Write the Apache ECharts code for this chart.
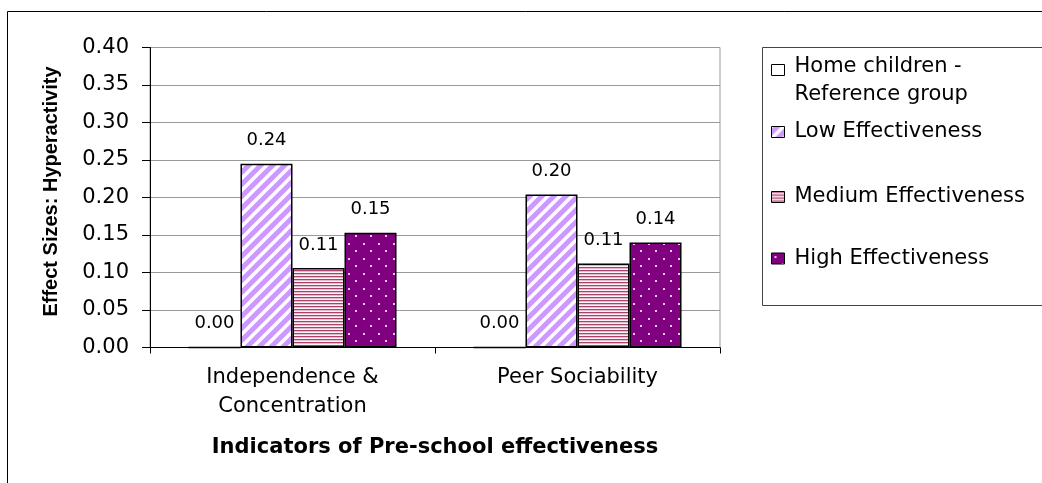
<!DOCTYPE html>
<html>
<head>
<meta charset="utf-8">
<script src="https://cdn.jsdelivr.net/npm/echarts@6/dist/echarts.min.js"></script>
<style>
html,body{margin:0;padding:0;background:#fff;}
#chart{width:1042px;height:483px;}
</style>
</head>
<body>
<div id="chart"></div>
<script>
// ---- data ----
var categories = ['Independence &\nConcentration', 'Peer Sociability'];
var seriesNames = ['Home children - Reference group', 'Low Effectiveness', 'Medium Effectiveness', 'High Effectiveness'];
var homeLegendLines = ['Home children -', 'Reference group'];
var homeValues = [0.00, 0.00];
var lowValues = [0.245, 0.204];
var mediumValues = [0.106, 0.112];
var highValues = [0.153, 0.140];
var yTicks = { min: 0, max: 0.4, interval: 0.05 };
var xAxisTitle = 'Indicators of Pre-school effectiveness';
var yAxisTitle = 'Effect Sizes: Hyperactivity';

// ---- patterns ----
function makeTile(w, h, draw) {
  var c = document.createElement('canvas');
  c.width = w; c.height = h;
  draw(c.getContext('2d'), w, h);
  return { image: c, repeat: 'repeat' };
}
var diagPattern = makeTile(12, 12, function (g, w, h) {
  g.fillStyle = '#cc99ff'; g.fillRect(0, 0, w, h);
  g.strokeStyle = '#ffffff'; g.lineWidth = 3.5;
  g.beginPath();
  g.moveTo(-6, 6); g.lineTo(6, -6);
  g.moveTo(0, 12); g.lineTo(12, 0);
  g.moveTo(6, 18); g.lineTo(18, 6);
  g.stroke();
});
var horizPattern = makeTile(4, 3, function (g, w, h) {
  g.fillStyle = '#a8436f'; g.fillRect(0, 0, w, 1);
  g.fillStyle = '#e3bccc'; g.fillRect(0, 1, w, 1);
  g.fillStyle = '#fdf3f7'; g.fillRect(0, 2, w, 1);
});
var dotPattern = makeTile(15, 15, function (g, w, h) {
  g.fillStyle = '#800080'; g.fillRect(0, 0, 15, 15);
  g.fillStyle = '#f0c8f0';
  g.fillRect(3, 3, 2, 2);
  g.fillRect(10, 10, 2, 2);
});

var FONT = 'DejaVu Sans';
var labelOpt = {
  show: true, position: 'top', distance: 14, color: '#000',
  fontFamily: FONT, fontSize: 18,
  formatter: function (p) { return p.value.toFixed(2); }
};
function bar(name, data, color) {
  return {
    name: name, type: 'bar', data: data,
    barGap: 0, barCategoryGap: '27%',
    itemStyle: { color: color, borderColor: '#000', borderWidth: 1.5 },
    label: labelOpt
  };
}
function legendFor(name, top, extra) {
  var l = {
    data: [name], orient: 'vertical', left: 771, top: top, padding: 0,
    icon: 'rect', itemWidth: 13, itemHeight: 11,
    itemStyle: { borderWidth: 1, borderColor: '#000' },
    selectedMode: false,
    textStyle: { fontFamily: FONT, fontSize: 21, color: '#000', lineHeight: 28, padding: [0, 0, 0, 5] }
  };
  if (extra) { for (var k in extra) l[k] = extra[k]; }
  return l;
}

var chart = echarts.init(document.getElementById('chart'), null, { renderer: 'canvas' });
chart.setOption({
  animation: false,
  backgroundColor: '#fff',
  textStyle: { fontFamily: FONT },
  graphic: [
    { type: 'rect', shape: { x: 7.5, y: 11.5, width: 1200, height: 600 }, style: { fill: 'none', stroke: '#000', lineWidth: 1 }, silent: true, z: -1 },
    { type: 'rect', shape: { x: 762.5, y: 47.5, width: 400, height: 258 }, style: { fill: 'none', stroke: '#444', lineWidth: 1 }, silent: true, z: -1 }
  ],
  legend: [
    legendFor(seriesNames[0], 37, {
      formatter: function () { return '{s| }\n{t|' + homeLegendLines[0] + '}\n{t|' + homeLegendLines[1] + '}'; },
      textStyle: {
        fontFamily: FONT, fontSize: 21, color: '#000', padding: [0, 0, 0, 5],
        rich: {
          s: { fontFamily: FONT, fontSize: 10, lineHeight: 22 },
          t: { fontFamily: FONT, fontSize: 21, color: '#000', lineHeight: 28 }
        }
      }
    }),
    legendFor(seriesNames[1], 118),
    legendFor(seriesNames[2], 183),
    legendFor(seriesNames[3], 244.5)
  ],
  grid: { left: 150, top: 47.5, width: 570, height: 300, show: true, borderColor: '#999', borderWidth: 1, outerBoundsMode: 'none', containLabel: false },
  xAxis: {
    type: 'category', data: categories,
    axisLine: { show: true, lineStyle: { color: '#000', width: 1 } },
    axisTick: { show: true, length: 6, lineStyle: { color: '#000' } },
    axisLabel: { margin: 16, color: '#000', fontFamily: FONT, fontSize: 21, lineHeight: 29, interval: 0 },
    splitLine: { show: false },
    name: xAxisTitle, nameLocation: 'middle', nameGap: 100,
    nameTextStyle: { fontFamily: FONT, fontSize: 21, fontWeight: 'bold', color: '#000', verticalAlign: 'middle' }
  },
  yAxis: {
    type: 'value', min: yTicks.min, max: yTicks.max, interval: yTicks.interval,
    axisLine: { show: true, lineStyle: { color: '#000', width: 1 } },
    axisTick: { show: true, length: 8, lineStyle: { color: '#000' } },
    axisLabel: { margin: 21, color: '#000', fontFamily: FONT, fontSize: 21, formatter: function (v) { return v.toFixed(2); } },
    splitLine: { show: true, lineStyle: { color: '#999', width: 1 } },
    name: yAxisTitle, nameLocation: 'middle', nameGap: 99, nameRotate: 90,
    nameTextStyle: { fontFamily: 'Liberation Sans', fontSize: 20, fontWeight: 'bold', color: '#000', verticalAlign: 'middle', padding: [0, 0, 0, 12] }
  },
  series: [
    bar(seriesNames[0], homeValues, '#ffffff'),
    bar(seriesNames[1], lowValues, diagPattern),
    bar(seriesNames[2], mediumValues, horizPattern),
    bar(seriesNames[3], highValues, dotPattern)
  ]
});
</script>
</body>
</html>
